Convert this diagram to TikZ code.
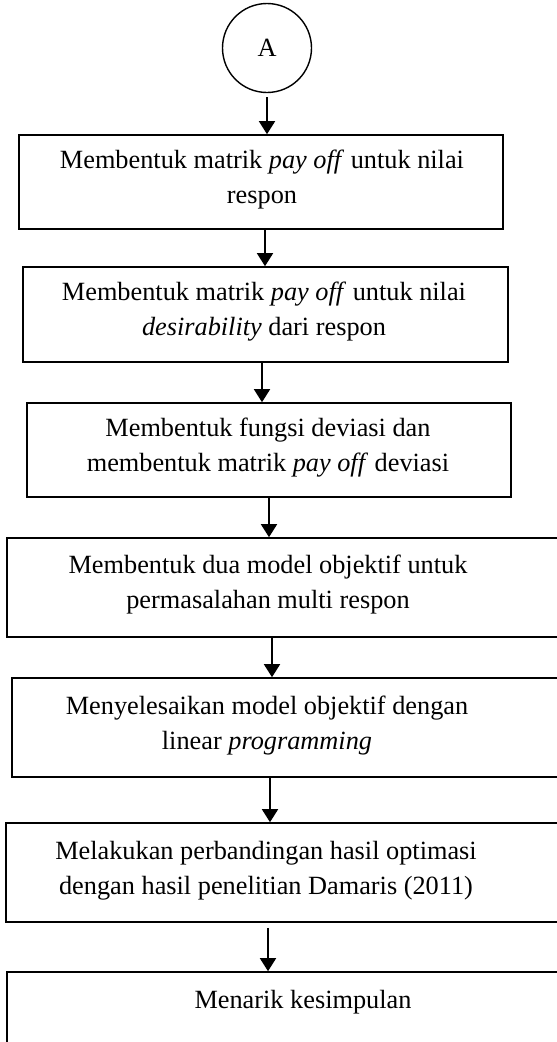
\documentclass[tikz,border=0pt]{standalone}
\usepackage{fontspec}
\setmainfont{Liberation Serif}
\usetikzlibrary{arrows.meta}
\begin{document}
\begin{tikzpicture}[x=1pt,y=-1pt,
  every node/.style={font=\fontsize{26.3}{35}\selectfont},
  box/.style={draw,line width=1.6pt,rectangle,inner sep=0pt},
  txt/.style={align=center,inner sep=0pt},
  arr/.style={line width=1.6pt,-{Triangle[width=16pt,length=13pt]}}]
\clip (0,0) rectangle (557,1042);
\fill[white] (0,0) rectangle (557,1042);
% connector
\node[draw,circle,line width=1.4pt,minimum size=89pt,inner sep=0pt] (A) at (267,48) {A};
\node[box,minimum width=484pt,minimum height=94pt] (b1) at (261,182) {};
\node[txt] (t1) at (262,180) {Membentuk matrik \textit{pay off} untuk nilai\\respon};
\node[box,minimum width=485pt,minimum height=95pt] (b2) at (265.5,314.5) {};
\node[txt] (t2) at (264,312) {Membentuk matrik \textit{pay off} untuk nilai\\\textit{desirability} dari respon};
\node[box,minimum width=484pt,minimum height=94pt] (b3) at (269,450) {};
\node[txt] (t3) at (268,448) {Membentuk fungsi deviasi dan\\membentuk matrik \textit{pay off} deviasi};
\node[box,minimum width=568pt,minimum height=99pt] (b4) at (291,587.5) {};
\node[txt] (t4) at (268,585) {Membentuk dua model objektif untuk\\permasalahan multi respon};
\node[box,minimum width=563pt,minimum height=99pt] (b5) at (293.5,727.5) {};
\node[txt] (t5) at (267,726) {Menyelesaikan model objektif dengan\\linear \textit{programming}};
\node[box,minimum width=569pt,minimum height=99pt] (b6) at (290.5,872.5) {};
\node[txt] (t6) at (266,871) {Melakukan perbandingan hasil optimasi\\dengan hasil penelitian Damaris (2011)};
\node[box,minimum width=568pt,minimum height=108pt] (b7) at (291,1026) {};
\node[txt] (t7) at (303,1002) {Menarik kesimpulan};
% arrows
\draw[arr,shorten <=4pt] (A.south) -- (A.south |- b1.north);
\draw[arr] (b1.south -| 265,0) -- (b2.north -| 265,0);
\draw[arr] (b2.south -| 262,0) -- (b3.north -| 262,0);
\draw[arr] (b3.south -| 269,0) -- (b4.north -| 269,0);
\draw[arr] (b4.south -| 272,0) -- (b5.north -| 272,0);
\draw[arr] (b5.south -| 270,0) -- (b6.north -| 270,0);
\draw[arr,shorten <=5pt] (b6.south -| 268,0) -- (b7.north -| 268,0);
\end{tikzpicture}
\end{document}
